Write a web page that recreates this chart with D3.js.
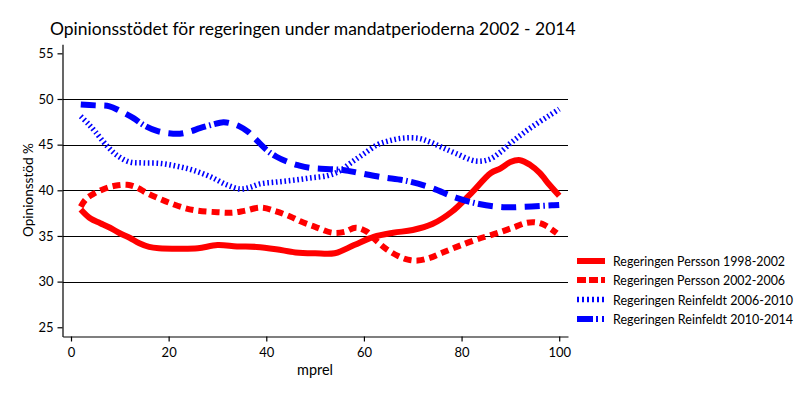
<!DOCTYPE html>
<html><head><meta charset="utf-8">
<script src="https://cdn.jsdelivr.net/npm/d3@7/dist/d3.min.js"></script>
<style>body{margin:0;background:#fff}svg{display:block}text{font-family:Lato,"Open Sans",sans-serif}</style>
</head><body><svg id="c" width="802" height="401"></svg>
<script>
const chartTitle = "Opinionsstödet för regeringen under mandatperioderna 2002 - 2014";
const xLabel = "mprel";
const yLabel = "Opinionsstöd %";
const xTicks = [0, 20, 40, 60, 80, 100];
const yTicks = [25, 30, 35, 40, 45, 50, 55];
const gridValues = [30, 35, 40, 45, 50];
const seriesNames = ["Regeringen Persson 1998-2002", "Regeringen Persson 2002-2006", "Regeringen Reinfeldt 2006-2010", "Regeringen Reinfeldt 2010-2014"];

const persson9802X = [2, 4, 6, 8, 10, 12, 14, 16, 18, 22, 26, 30, 34, 38, 42, 46, 50, 54, 58, 62, 66, 70, 74, 78, 82, 86, 88, 90, 92, 94, 96, 98, 100];
const persson9802Y = [37.9, 36.9, 36.4, 35.9, 35.3, 34.8, 34.2, 33.8, 33.65, 33.6, 33.65, 34.0, 33.85, 33.8, 33.55, 33.2, 33.1, 33.1, 34.0, 34.9, 35.35, 35.65, 36.3, 37.65, 39.7, 41.9, 42.4, 43.1, 43.3, 42.8, 41.9, 40.6, 39.4];

const persson0206X = [2, 3, 4.6, 7, 9, 11.5, 13.5, 15.5, 18, 20.3, 23, 25.5, 30, 33, 35.5, 39, 42, 45, 47, 50, 53.5, 56, 58.3, 60.5, 62.5, 64.5, 67, 69, 71, 73.5, 76, 79, 83, 87.8, 91, 93, 95, 97, 99.5];
const persson0206Y = [38.2, 39.0, 39.6, 40.2, 40.5, 40.6, 40.3, 39.7, 39.1, 38.6, 38.1, 37.8, 37.6, 37.55, 37.75, 38.1, 37.7, 37.1, 36.6, 36.0, 35.35, 35.45, 35.9, 35.5, 34.5, 33.6, 32.8, 32.4, 32.3, 32.6, 33.15, 33.8, 34.6, 35.4, 36.0, 36.4, 36.5, 36.2, 35.3];

const reinfeldt0610X = [2, 3.5, 5, 7.3, 9.5, 12, 14.8, 18.2, 21.6, 25, 28.5, 31.9, 34.6, 36.5, 38.7, 42, 45.5, 49, 52.5, 55, 57.3, 60, 62.8, 65, 67.7, 71.1, 73.5, 76, 79, 82.9, 85.7, 88, 89.9, 92.5, 95.4, 98, 100];
const reinfeldt0610Y = [48.1, 47.3, 46.4, 44.9, 43.8, 43.1, 43.0, 42.95, 42.65, 42.2, 41.5, 40.6, 40.15, 40.3, 40.7, 40.9, 41.1, 41.35, 41.6, 42.1, 43.0, 44.0, 45.0, 45.4, 45.7, 45.7, 45.3, 44.7, 44.0, 43.2, 43.4, 44.2, 45.1, 46.2, 47.3, 48.2, 48.9];

const reinfeldt1014X = [2, 5, 7.9, 10, 12.8, 15, 17.6, 20, 22.3, 24.5, 26.4, 29, 31.2, 32.6, 34.5, 36.3, 38, 40.1, 42, 44.2, 46.5, 49, 53.8, 56, 59, 63.5, 69, 73.9, 78.8, 83.6, 88.5, 93, 98.5, 100];
const reinfeldt1014Y = [49.4, 49.3, 49.2, 48.7, 47.9, 47.1, 46.5, 46.25, 46.2, 46.45, 46.8, 47.2, 47.45, 47.35, 47.0, 46.4, 45.5, 44.4, 43.7, 43.15, 42.75, 42.45, 42.3, 42.2, 41.9, 41.45, 41.0, 40.25, 39.2, 38.5, 38.15, 38.2, 38.35, 38.4];

const seriesX = [persson9802X, persson0206X, reinfeldt0610X, reinfeldt1014X];
const seriesY = [persson9802Y, persson0206Y, reinfeldt0610Y, reinfeldt1014Y];

const styles = [
  {color: "#ff0000", width: 6, dash: null, legendDash: null},
  {color: "#ff0000", width: 6, dash: "8,5", legendDash: "9,3"},
  {color: "#0000ff", width: 5.5, dash: "1.6,2.7", legendDash: "2,3"},
  {color: "#0000ff", width: 6, dash: "15,8.5,15,8.5,15,3.5,1.6,3.5", legendDash: "16,3,2,4,2,10"}
];

const svg = d3.select("#c");
const x = d3.scaleLinear().domain([-1.7, 101.8]).range([62.7, 568]);
const y = d3.scaleLinear().domain([24, 56]).range([336.4, 44.2]);

function fit(sel, target, base) {
  sel.attr("font-size", base);
  const w = sel.node().getComputedTextLength();
  const s = base * target / w;
  sel.attr("font-size", s);
  return s;
}

// title
const t = svg.append("text").attr("x", 50).attr("y", 35).attr("fill", "#000").text(chartTitle);
fit(t, 526, 20);

// gridlines
svg.append("g").selectAll("line").data(gridValues).join("line")
  .attr("x1", 62.7).attr("x2", 568)
  .attr("y1", d => Math.round(y(d)) + 0.5).attr("y2", d => Math.round(y(d)) + 0.5)
  .attr("stroke", "#000").attr("stroke-width", 1);

// legend
const legendY = [261, 280, 299.5, 319];
const legendW = [172, 172, 180, 180];
seriesNames.forEach((name, i) => {
  const l = svg.append("line").attr("x1", 577).attr("x2", 605)
    .attr("y1", legendY[i]).attr("y2", legendY[i])
    .attr("stroke", styles[i].color).attr("stroke-width", styles[i].width);
  if (styles[i].legendDash) l.attr("stroke-dasharray", styles[i].legendDash);
  svg.append("text").attr("x", 613).attr("y", legendY[i] + 5)
    .attr("font-size", 13).attr("fill", "#000")
    .attr("textLength", legendW[i]).attr("lengthAdjust", "spacingAndGlyphs")
    .text(name);
});

// axes
const yAxis = svg.append("g").attr("transform", "translate(62.5,0)")
  .call(d3.axisLeft(y).tickValues(yTicks).tickSize(5).tickSizeOuter(0).tickPadding(4));
const xAxis = svg.append("g").attr("transform", "translate(0,336.5)")
  .call(d3.axisBottom(x).tickValues(xTicks).tickSize(5).tickSizeOuter(0).tickPadding(6));
[yAxis, xAxis].forEach(g => {
  g.selectAll("path,line").attr("stroke", "#000").attr("stroke-width", 1.2);
  g.selectAll("text").attr("font-size", 13).attr("fill", "#000").style("font-family", "Lato");
});

// axis labels
const xl = svg.append("text").attr("x", 315).attr("y", 375).attr("text-anchor", "middle")
  .attr("fill", "#000").text(xLabel);
fit(xl, 36, 13);
const yl = svg.append("text").attr("transform", "translate(33,190) rotate(-90)").attr("text-anchor", "middle")
  .attr("fill", "#000").text(yLabel);
fit(yl, 94, 13);

// lines
const line = d3.line().x(d => x(d[0])).y(d => y(d[1])).curve(d3.curveCatmullRom.alpha(0.5));
seriesX.forEach((xs, i) => {
  const pts = xs.map((v, j) => [v, seriesY[i][j]]);
  const p = svg.append("path").datum(pts).attr("d", line)
    .attr("fill", "none").attr("stroke", styles[i].color)
    .attr("stroke-width", styles[i].width).attr("stroke-linejoin", "round");
  if (styles[i].dash) p.attr("stroke-dasharray", styles[i].dash);
});
</script></body></html>
